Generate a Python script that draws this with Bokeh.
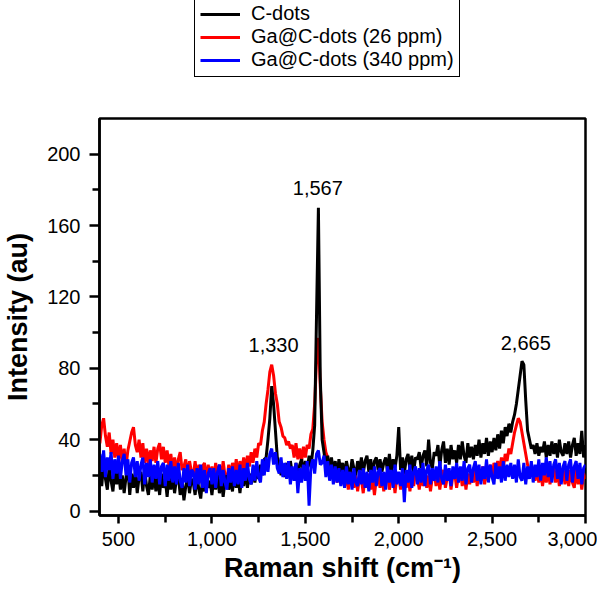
from bokeh.plotting import figure
from bokeh.layouts import column
from bokeh.models import (Legend, LegendItem, FixedTicker, NumeralTickFormatter,
                          Range1d, ColumnDataSource)
from bokeh.core.properties import value
from bokeh.embed import file_html
from bokeh.resources import INLINE

# Raman shift grid (cm^-1), 400..3000 step 10
shift = list(range(400, 3001, 10))

c_dots = [
    24, 14, 27, 18, 12, 25, 17, 11, 23, 15,
    22, 12, 20, 10, 19, 24, 9, 21, 13, 22,
    10, 19, 22, 11, 23, 14, 9, 20, 12, 21,
    11, 19, 9, 21, 13, 18, 8, 20, 12, 19,
    10, 18, 20, 9, 17, 6, 14, 19, 10, 18,
    16, 9, 20, 12, 7, 18, 11, 19, 13, 17,
    9, 19, 12, 21, 10, 18, 8, 17, 20, 12,
    18, 11, 21, 13, 19, 10, 20, 14, 22, 13,
    21, 15, 23, 16, 25, 18, 26, 20, 29, 30,
    40, 52, 70, 60, 45, 30, 27, 20, 26, 19,
    27, 19, 28, 21, 18, 27, 20, 26, 29, 21,
    28, 22, 31, 25, 34, 48, 110, 170, 75, 40,
    33, 24, 31, 22, 30, 21, 28, 20, 29, 22,
    27, 20, 28, 23, 21, 29, 24, 20, 28, 22,
    30, 21, 28, 31, 22, 29, 20, 28, 30, 23,
    29, 22, 27, 30, 22, 32, 21, 29, 24, 31,
    47, 23, 30, 21, 29, 32, 23, 31, 22, 30,
    29, 33, 24, 31, 34, 25, 40, 27, 24, 33,
    31, 37, 25, 34, 39, 27, 35, 26, 37, 29,
    34, 27, 37, 29, 39, 31, 27, 38, 30, 36,
    29, 37, 31, 40, 30, 38, 32, 41, 31, 39,
    33, 41, 34, 43, 35, 45, 38, 47, 42, 49,
    44, 50, 54, 60, 68, 76, 84, 82, 62, 45,
    40, 35, 37, 32, 38, 31, 36, 33, 39, 30,
    37, 31, 39, 32, 38, 30, 40, 33, 31, 38,
    32, 39, 30, 37, 41, 31, 38, 32, 45, 30,
    37,
]

ga_26 = [
    38, 48, 52, 42, 36, 44, 32, 40, 30, 38,
    29, 37, 27, 35, 25, 34, 39, 44, 47, 37,
    33, 40, 30, 38, 27, 35, 26, 34, 28, 36,
    27, 35, 38, 29, 36, 27, 34, 25, 32, 23,
    30, 22, 29, 33, 23, 25, 29, 19, 28, 22,
    20, 28, 18, 26, 16, 25, 27, 17, 26, 19,
    25, 17, 27, 19, 26, 18, 28, 20, 17, 26,
    19, 27, 21, 29, 20, 28, 22, 30, 23, 31,
    25, 33, 27, 35, 30, 38, 37, 45, 50, 60,
    68, 78, 82, 76, 66, 60, 50, 47, 42, 41,
    37, 39, 35, 37, 30, 38, 29, 35, 28, 36,
    30, 37, 35, 43, 46, 60, 85, 97, 70, 50,
    40, 33, 30, 23, 25, 18, 23, 16, 21, 15,
    21, 14, 20, 12, 19, 22, 13, 20, 11, 19,
    18, 10, 20, 13, 21, 12, 19, 9, 18, 21,
    13, 20, 11, 19, 22, 12, 18, 21, 10, 19,
    20, 12, 19, 23, 13, 21, 11, 20, 14, 22,
    19, 12, 21, 14, 23, 13, 20, 11, 19, 22,
    14, 21, 12, 20, 23, 13, 19, 22, 12, 20,
    21, 13, 20, 23, 14, 22, 12, 21, 15, 23,
    16, 24, 14, 22, 17, 25, 15, 23, 17, 26,
    19, 27, 21, 28, 22, 30, 24, 32, 28, 35,
    32, 38, 44, 48, 52, 50, 44, 38, 32, 26,
    21, 24, 22, 17, 24, 16, 23, 14, 22, 16,
    23, 15, 22, 25, 16, 23, 14, 21, 24, 15,
    22, 14, 23, 16, 13, 24, 15, 22, 12, 21,
    18,
]

ga_340 = [
    32, 22, 34, 19, 30, 23, 33, 18, 29, 21,
    31, 18, 28, 32, 20, 29, 16, 27, 30, 19,
    28, 17, 26, 30, 15, 27, 19, 29, 16, 26,
    18, 28, 15, 25, 27, 14, 26, 17, 28, 16,
    25, 15, 27, 17, 13, 24, 16, 26, 14, 23,
    22, 12, 24, 15, 26, 13, 23, 10, 21, 24,
    15, 24, 13, 22, 26, 14, 23, 16, 12, 24,
    16, 25, 14, 23, 15, 26, 13, 24, 17, 27,
    18, 15, 26, 17, 28, 19, 16, 29, 20, 30,
    22, 32, 35, 26, 33, 24, 21, 30, 19, 27,
    18, 28, 15, 25, 17, 27, 10, 24, 16, 26,
    17, 28, 3, 25, 29, 21, 32, 34, 26, 27,
    31, 19, 28, 17, 26, 15, 25, 16, 24, 14,
    23, 13, 25, 15, 22, 12, 24, 16, 14, 23,
    15, 24, 13, 22, 11, 23, 16, 25, 14, 22,
    24, 14, 22, 12, 25, 16, 23, 13, 26, 15,
    22, 14, 24, 5, 23, 16, 26, 13, 22, 25,
    15, 24, 16, 27, 14, 23, 26, 15, 24, 17,
    25, 16, 28, 18, 15, 26, 17, 24, 14, 25,
    18, 27, 16, 25, 17, 28, 15, 24, 26, 16,
    24, 28, 17, 26, 15, 25, 18, 29, 16, 26,
    19, 15, 27, 18, 25, 16, 28, 17, 26, 19,
    27, 18, 26, 16, 29, 19, 17, 27, 15, 25,
    18, 28, 16, 26, 19, 29, 17, 27, 20, 30,
    19, 28, 16, 26, 29, 18, 27, 15, 25, 28,
    17, 26, 29, 16, 25, 28, 18, 27, 15, 24,
    26,
]

series_names = ["C-dots", "Ga@C-dots (26 ppm)", "Ga@C-dots (340 ppm)"]
series_colors = ["black", "#ff0000", "#0000ff"]

peak_x = [1330, 1567, 2680]
peak_y = [93, 181, 94]
peak_text = ["1,330", "1,567", "2,665"]

x_ticks = [500, 1000, 1500, 2000, 2500, 3000]
x_minor = [750, 1250, 1750, 2250, 2750]
y_ticks = [0, 40, 80, 120, 160, 200]
y_minor = [20, 60, 100, 140, 180]

FONT = "Liberation Sans"
W = 595
LEG_H = 80

ys = {"C-dots": c_dots, "Ga@C-dots (26 ppm)": ga_26, "Ga@C-dots (340 ppm)": ga_340}

# ---- legend strip (separate figure above the plot; its series lie outside its view) ----
pl = figure(width=W, height=LEG_H, output_backend="svg", toolbar_location=None,
            x_range=Range1d(0, 1), y_range=Range1d(0, 1),
            min_border=0, min_border_left=0, min_border_right=0,
            min_border_top=0, min_border_bottom=0)
pl.axis.visible = False
pl.grid.visible = False
pl.outline_line_color = None
pl.background_fill_color = "white"
pl.border_fill_color = "white"
key_renderers = [pl.line(shift, ys[n], line_color=c, line_width=3)
                 for n, c in zip(series_names, series_colors)]
legend = Legend(
    items=[LegendItem(label=n, renderers=[r]) for n, r in zip(series_names, key_renderers)],
    location=(95, 3), orientation="vertical",
    label_text_font=FONT, label_text_font_size="20px", label_text_color="black",
    label_text_line_height=1.0,
    glyph_width=40, glyph_height=22, label_height=22, label_standoff=11,
    spacing=0, padding=5, margin=0,
    border_line_color="black", border_line_width=1.2, border_line_alpha=1.0,
    background_fill_color="white", background_fill_alpha=1.0,
)
pl.add_layout(legend, "center")

# ---- main plot ----
p = figure(width=W, height=509, frame_width=486, frame_height=397,
           output_backend="svg", toolbar_location=None,
           x_range=Range1d(398, 3000), y_range=Range1d(-2.5, 220),
           min_border_left=97, min_border_right=12,
           min_border_top=118 - LEG_H, min_border_bottom=74)
p.background_fill_color = "white"
p.border_fill_color = "white"
p.grid.visible = False
p.outline_line_color = "black"
p.outline_line_width = 2.5

# draw order: red, black, blue
for name in [series_names[1], series_names[0], series_names[2]]:
    color = series_colors[series_names.index(name)]
    p.line(shift, ys[name], line_color=color, line_width=3)

src = ColumnDataSource(dict(x=peak_x, y=peak_y, t=peak_text))
p.text(x="x", y="y", text="t", source=src, text_font=value(FONT),
       text_font_size="20px", text_align="center", text_baseline="middle",
       text_color="black")

for ax in (p.xaxis[0], p.yaxis[0]):
    ax.axis_line_width = 2.5
    ax.axis_line_color = "black"
    ax.major_tick_line_width = 2.5
    ax.minor_tick_line_width = 2.5
    ax.major_tick_in = 0
    ax.minor_tick_in = 0
    ax.major_label_text_font = FONT
    ax.major_label_text_font_size = "20px"
    ax.major_label_text_color = "black"
    ax.axis_label_text_font = FONT
    ax.axis_label_text_font_style = "bold"
    ax.axis_label_text_font_size = "27px"
    ax.axis_label_text_color = "black"

p.xaxis[0].ticker = FixedTicker(ticks=x_ticks, minor_ticks=x_minor)
p.yaxis[0].ticker = FixedTicker(ticks=y_ticks, minor_ticks=y_minor)
p.xaxis[0].formatter = NumeralTickFormatter(format="0,0")
p.xaxis[0].major_tick_out = 8
p.xaxis[0].minor_tick_out = 7
p.yaxis[0].major_tick_out = 10
p.yaxis[0].minor_tick_out = 7
p.xaxis[0].major_label_standoff = 8
p.yaxis[0].major_label_standoff = 9
p.xaxis[0].axis_label = "Raman shift (cm\u207b\u00b9)"
p.yaxis[0].axis_label = "Intensity (au)"
p.xaxis[0].axis_label_standoff = 4
p.yaxis[0].axis_label_standoff = 11

layout = column(pl, p, spacing=0)
open("out.html", "w").write(file_html(layout, INLINE))
